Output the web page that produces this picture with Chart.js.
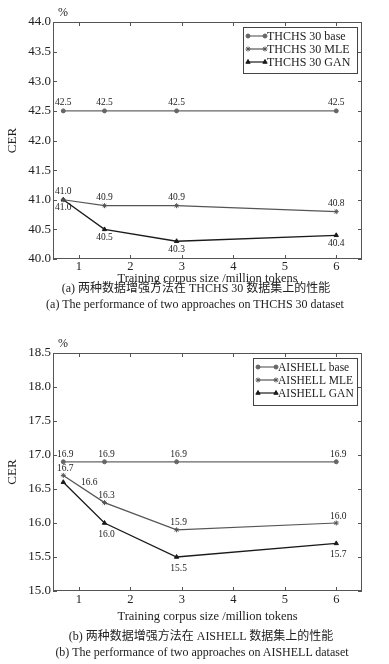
<!DOCTYPE html>
<html>
<head>
<meta charset="utf-8">
<script src="https://cdn.jsdelivr.net/npm/chart.js@4.4.0/dist/chart.umd.min.js"></script>
<style>
  body { margin: 0; background: #fff; }
  #wrap { position: relative; width: 389px; height: 664px; overflow: hidden;
          font-family: "Liberation Serif", "Noto Sans CJK SC", serif; color: #222; }
  canvas { position: absolute; left: 0; }
  .cap { position: absolute; width: 400px; text-align: center; font-size: 12px;
         line-height: 14px; white-space: nowrap; }
</style>
</head>
<body>
<div id="wrap">
  <canvas id="thchs" width="389" height="290" style="top:0"></canvas>
  <div class="cap" style="left:-4px;top:281px">(a) 两种数据增强方法在 THCHS 30 数据集上的性能</div>
  <div class="cap" style="left:-5px;top:297px">(a) The performance of two approaches on THCHS 30 dataset</div>
  <canvas id="aishell" width="389" height="295" style="top:332px"></canvas>
  <div class="cap" style="left:1px;top:629px">(b) 两种数据增强方法在 AISHELL 数据集上的性能</div>
  <div class="cap" style="left:2px;top:645px">(b) The performance of two approaches on AISHELL dataset</div>
</div>
<script>
// corpus sizes (million tokens) and x tick labels
var sizes = [0.7, 1.5, 2.9, 6];
var xTicks = [1, 2, 3, 4, 5, 6];

// CER %, THCHS 30
var thchsNames = ["THCHS 30 base", "THCHS 30 MLE", "THCHS 30 GAN"];
var thchsBase = [42.5, 42.5, 42.5, 42.5];
var thchsMle = [41.0, 40.9, 40.9, 40.8];
var thchsGan = [41.0, 40.5, 40.3, 40.4];

// CER %, AISHELL
var aishellNames = ["AISHELL base", "AISHELL MLE", "AISHELL GAN"];
var aishellBase = [16.9, 16.9, 16.9, 16.9];
var aishellMle = [16.7, 16.3, 15.9, 16.0];
var aishellGan = [16.6, 16.0, 15.5, 15.7];

var serif = '"Liberation Serif", "Times New Roman", serif';
var ink = '#222';

function pts(ys) {
  return sizes.map(function(x, i) { return { x: x, y: ys[i] }; });
}

function drawMark(ctx, style, r, x, y) {
  if (Chart.helpers && Chart.helpers.drawPoint) {
    Chart.helpers.drawPoint(ctx, { pointStyle: style, radius: r, rotation: 0, borderWidth: 1 }, x, y);
  } else {
    ctx.beginPath(); ctx.arc(x, y, r, 0, Math.PI * 2); ctx.fill();
  }
}

var decor = {
  id: 'decor',
  afterDraw: function(chart, args, o) {
    var ctx = chart.ctx, a = chart.chartArea;
    var xs = chart.scales.x, ys = chart.scales.y;
    ctx.save();
    // frame + inward ticks on all sides
    ctx.strokeStyle = '#555';
    ctx.lineWidth = 1;
    ctx.strokeRect(a.left + 0.5, a.top + 0.5, a.right - a.left - 1, a.bottom - a.top - 1);
    ctx.beginPath();
    xs.ticks.forEach(function(t) {
      var px = Math.round(xs.getPixelForValue(t.value)) + 0.5;
      ctx.moveTo(px, a.bottom); ctx.lineTo(px, a.bottom - 4);
      ctx.moveTo(px, a.top); ctx.lineTo(px, a.top + 4);
    });
    ys.ticks.forEach(function(t) {
      var py = Math.round(ys.getPixelForValue(t.value)) + 0.5;
      ctx.moveTo(a.left, py); ctx.lineTo(a.left + 4, py);
      ctx.moveTo(a.right, py); ctx.lineTo(a.right - 4, py);
    });
    ctx.stroke();

    ctx.fillStyle = ink;
    ctx.textAlign = 'center';
    ctx.textBaseline = 'middle';
    ctx.font = '12px ' + serif;
    ctx.fillText('%', a.left + 10, a.top - 9);

    // value labels
    ctx.font = '9.5px ' + serif;
    chart.data.datasets.forEach(function(ds, i) {
      var meta = chart.getDatasetMeta(i);
      meta.data.forEach(function(p, j) {
        var pos = ds.labelPos[j], dx = o.dx, dy = o.above;
        if (pos === 'below') dy = o.below;
        if (pos === 'right') { dx = 26; dy = 0; }
        ctx.fillText(ds.data[j].y.toFixed(1), p.x + dx, p.y + dy);
      });
    });

    // legend box
    var bx = a.right - o.legendRight - o.legendW, by = a.top + 5;
    ctx.strokeStyle = '#444';
    ctx.strokeRect(bx + 0.5, by + 0.5, o.legendW, o.legendH);
    ctx.font = o.legendFont + 'px ' + serif;
    ctx.textAlign = 'left';
    chart.data.datasets.forEach(function(ds, i) {
      var y = by + 9 + i * 13;
      var x0 = bx + 5, x1 = x0 + o.lineLen;
      ctx.strokeStyle = ds.borderColor;
      ctx.fillStyle = ds.borderColor;
      ctx.lineWidth = 1.2;
      ctx.beginPath(); ctx.moveTo(x0, y); ctx.lineTo(x1, y); ctx.stroke();
      ctx.lineWidth = 1;
      drawMark(ctx, ds.pointStyle, ds.pointRadius, x0, y);
      drawMark(ctx, ds.pointStyle, ds.pointRadius, x1, y);
      ctx.fillStyle = ink;
      ctx.fillText(ds.label, x1 + 2, y + 1);
    });
    ctx.restore();
  }
};

function makeChart(id, names, base, mle, gan, yMin, yMax, cfg) {
  return new Chart(document.getElementById(id), {
    type: 'line',
    data: {
      datasets: [{
          label: names[0],
          data: pts(base),
          borderColor: '#666', backgroundColor: '#666',
          borderWidth: 1.2, pointStyle: 'circle', pointRadius: 2, pointBorderWidth: 1,
          labelPos: ['above', 'above', 'above', 'above']
        }, {
          label: names[1],
          data: pts(mle),
          borderColor: '#555', backgroundColor: '#555',
          borderWidth: 1.2, pointStyle: 'star', pointRadius: 2.5, pointBorderWidth: 1,
          labelPos: ['above', 'above', 'above', 'above']
        }, {
          label: names[2],
          data: pts(gan),
          borderColor: '#1a1a1a', backgroundColor: '#1a1a1a',
          borderWidth: 1.3, pointStyle: 'triangle', pointRadius: 2.5, pointBorderWidth: 1,
          labelPos: cfg.ganPos
        }
      ]
    },
    options: {
      responsive: false,
      animation: false,
      layout: { padding: { left: 0, right: 27, top: cfg.top, bottom: 0 } },
      plugins: {
        legend: { display: false },
        tooltip: { enabled: false },
        decor: cfg.decor
      },
      scales: {
        x: {
          type: 'linear', min: 0.5, max: 6.5,
          grid: { display: false, drawTicks: false },
          border: { display: false },
          afterBuildTicks: function(s) { s.ticks = xTicks.map(function(v) { return { value: v }; }); },
          afterFit: function(s) { s.height = cfg.xH; },
          ticks: { padding: cfg.xPad, color: ink, font: { family: serif, size: 12.5 } },
          title: {
            display: true, text: 'Training corpus size /million tokens', color: ink,
            font: { family: serif, size: 12.5 }, padding: { top: 0, bottom: cfg.titlePad }
          }
        },
        y: {
          min: yMin, max: yMax,
          grid: { display: false, drawTicks: false },
          border: { display: false },
          afterFit: function(s) { s.width = 53; },
          ticks: {
            stepSize: 0.5, padding: 2, color: ink, font: { family: serif, size: 13 },
            callback: function(v) { return v.toFixed(1); }
          },
          title: {
            display: true, text: 'CER', color: ink,
            font: { family: serif, size: 13 }, padding: { top: 5, bottom: 0 }
          }
        }
      }
    },
    plugins: [decor]
  });
}

makeChart('thchs', thchsNames, thchsBase, thchsMle, thchsGan, 40, 44, {
  top: 22, xH: 31, xPad: 0, titlePad: 4,
  ganPos: ['below', 'below', 'below', 'below'],
  decor: { dx: 0, above: -8, below: 8, legendRight: 5, legendW: 114, legendH: 46, lineLen: 17, legendFont: 12 }
});

makeChart('aishell', aishellNames, aishellBase, aishellMle, aishellGan, 15, 18.5, {
  top: 21, xH: 36, xPad: 1, titlePad: 3,
  ganPos: ['right', 'below', 'below', 'below'],
  decor: { dx: 2, above: -7, below: 11, legendRight: 5, legendW: 104, legendH: 47, lineLen: 18, legendFont: 11.5 }
});
</script>
</body>
</html>
